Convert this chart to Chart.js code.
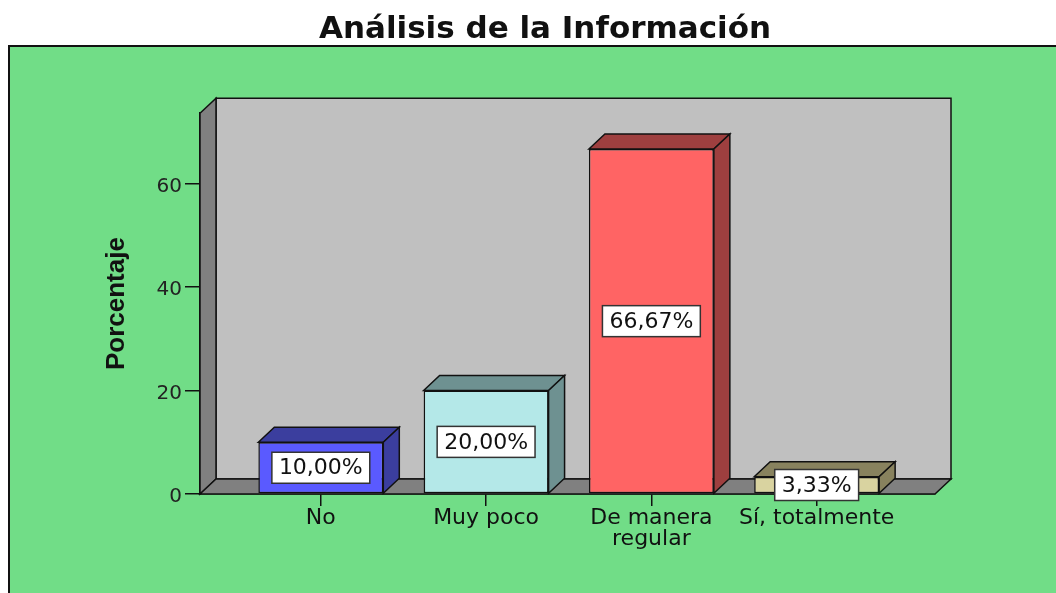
<!DOCTYPE html>
<html>
<head>
<meta charset="utf-8">
<script src="https://cdn.jsdelivr.net/npm/chart.js@4.4.1/dist/chart.umd.min.js"></script>
<style>
  html, body { margin: 0; padding: 0; background: #fff; }
  #wrap { width: 1056px; height: 593px; }
</style>
</head>
<body>
<div id="wrap"><canvas id="chart"></canvas></div>
<script>
const categories = ["No", "Muy poco", ["De manera", "regular"], "Sí, totalmente"];
const percentages = [10.00, 20.00, 66.67, 3.33];
const valueLabels = ["10,00%", "20,00%", "66,67%", "3,33%"];
const yTicks = [0, 20, 40, 60];

const frontColors = ["#5a5aff", "#b4e8e8", "#ff6464", "#d9d3a0"];
const sideColors = ["#3b3e9e", "#6e9191", "#9e3f3f", "#88825e"];

// 3D depth of walls and bars
const DX = 16, DY = 15;

function poly(ctx, pts, fill) {
    ctx.beginPath();
    ctx.moveTo(pts[0][0], pts[0][1]);
    for (let i = 1; i < pts.length; i++) ctx.lineTo(pts[i][0], pts[i][1]);
    ctx.closePath();
    ctx.fillStyle = fill;
    ctx.fill();
    ctx.strokeStyle = "#111";
    ctx.lineWidth = 1.5;
    ctx.stroke();
}

const box3d = {
    id: "box3d",
    beforeDraw(chart) {
        const ctx = chart.ctx;
        ctx.save();
        ctx.fillStyle = "#fff";
        ctx.fillRect(0, 0, chart.width, chart.height);
        ctx.fillStyle = "#71dd87";
        ctx.fillRect(9, 46, chart.width - 9, chart.height - 46);
        ctx.strokeStyle = "#111";
        ctx.lineWidth = 2;
        ctx.beginPath();
        ctx.moveTo(9, chart.height);
        ctx.lineTo(9, 46);
        ctx.lineTo(chart.width, 46);
        ctx.stroke();
        ctx.restore();
    },
    beforeDatasetsDraw(chart) {
        const { ctx, chartArea: a } = chart;
        ctx.save();
        poly(ctx, [[a.left + DX, a.top - DY], [a.right + DX, a.top - DY], [a.right + DX, a.bottom - DY], [a.left + DX, a.bottom - DY]], "#c0c0c0");
        poly(ctx, [[a.left, a.top], [a.left + DX, a.top - DY], [a.left + DX, a.bottom - DY], [a.left, a.bottom]], "#808080");
        poly(ctx, [[a.left, a.bottom], [a.left + DX, a.bottom - DY], [a.right + DX, a.bottom - DY], [a.right, a.bottom]], "#808080");
        ctx.restore();
    },
    afterDatasetsDraw(chart) {
        const ctx = chart.ctx;
        const meta = chart.getDatasetMeta(0);
        ctx.save();
        meta.data.forEach((bar, i) => {
            const { x, y, base, width } = bar.getProps(["x", "y", "base", "width"], true);
            const x0 = x - width / 2, x1 = x + width / 2;
            poly(ctx, [[x0, y], [x0 + DX, y - DY], [x1 + DX, y - DY], [x1, y]], sideColors[i]);
            poly(ctx, [[x1, y], [x1 + DX, y - DY], [x1 + DX, base - DY], [x1, base]], sideColors[i]);
        });
        ctx.font = "22px 'DejaVu Sans'";
        ctx.textAlign = "center";
        ctx.textBaseline = "middle";
        meta.data.forEach((bar, i) => {
            const { x, y, base } = bar.getProps(["x", "y", "base"], true);
            const cy = (y + base) / 2;
            const w = ctx.measureText(valueLabels[i]).width + 14;
            const h = 31;
            ctx.fillStyle = "#fff";
            ctx.fillRect(x - w / 2, cy - h / 2, w, h);
            ctx.strokeStyle = "#333";
            ctx.lineWidth = 1.5;
            ctx.strokeRect(x - w / 2, cy - h / 2, w, h);
            ctx.fillStyle = "#111";
            ctx.fillText(valueLabels[i], x, cy + 1);
        });
        ctx.restore();
    }
};

new Chart(document.getElementById("chart"), {
    type: "bar",
    data: {
        datasets: [{
            data: percentages.map((v, i) => ({ x: i, y: v })),
            backgroundColor: frontColors,
            borderColor: "#111",
            borderWidth: 1.5,
            borderSkipped: false,
            categoryPercentage: 1,
            barPercentage: 0.756
        }]
    },
    options: {
        responsive: true,
        maintainAspectRatio: false,
        animation: false,
        layout: { padding: { left: 34, right: 0, top: 0, bottom: 0 } },
        plugins: {
            legend: { display: false },
            tooltip: { enabled: false },
            title: {
                display: true,
                text: "Análisis de la Información",
                color: "#111",
                font: { family: "'DejaVu Sans'", size: 31, weight: "bold" },
                padding: { top: 11, bottom: 65 }
            }
        },
        scales: {
            x: {
                type: "linear",
                offset: false,
                min: -0.731,
                max: 3.716,
                afterBuildTicks: s => { s.ticks = categories.map((c, i) => ({ value: i })); },
                afterFit: s => { s.height = 99; },
                grid: { offset: false, drawOnChartArea: false, drawTicks: true, tickLength: 12, color: "#111", lineWidth: 1.5 },
                border: { display: true, color: "#111", width: 1.5 },
                ticks: {
                    autoSkip: false,
                    maxRotation: 0,
                    padding: 2,
                    color: "#111",
                    font: { family: "'DejaVu Sans'", size: 22, lineHeight: 0.95 },
                    callback: v => categories[v]
                }
            },
            y: {
                min: 0,
                max: 73.6,
                afterBuildTicks: s => { s.ticks = yTicks.map(v => ({ value: v })); },
                afterFit: s => { s.width = 166; },
                grid: { drawOnChartArea: false, drawTicks: true, tickLength: 15, color: "#111", lineWidth: 1.5 },
                border: { display: true, color: "#111", width: 1.5 },
                ticks: {
                    padding: 3,
                    labelOffset: 3,
                    color: "#222",
                    font: { family: "'DejaVu Sans'", size: 20 }
                },
                title: {
                    display: true,
                    text: "Porcentaje",
                    color: "#111",
                    font: { family: "'Liberation Sans'", size: 26, weight: "bold" },
                    padding: { top: 67 }
                }
            },
            // empty right-hand axis that keeps the space right of the plot
            yRight: {
                position: "right",
                afterFit: s => { s.width = 121; },
                grid: { display: false },
                border: { display: false },
                ticks: { display: false }
            }
        }
    },
    plugins: [box3d]
});
</script>
</body>
</html>
